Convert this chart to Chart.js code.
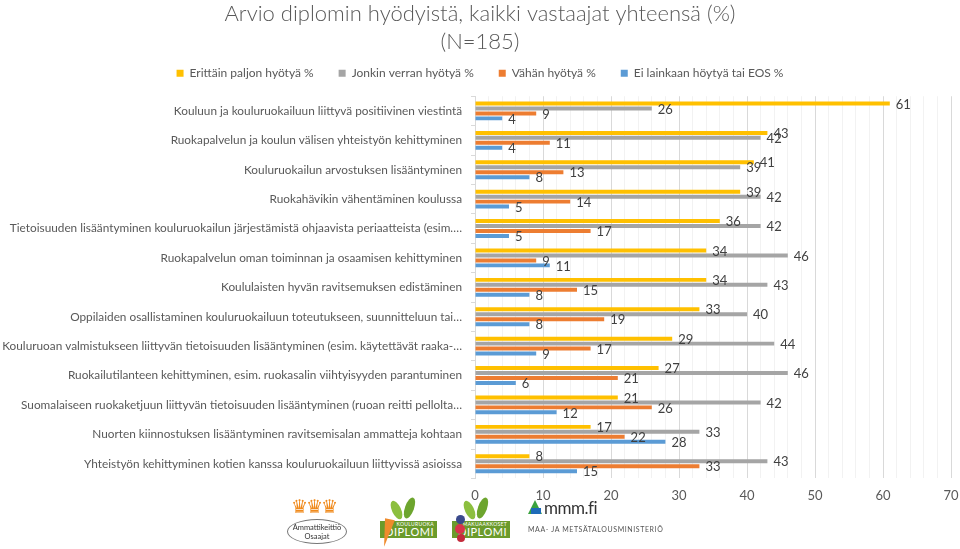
<!DOCTYPE html>
<html>
<head>
<meta charset="utf-8">
<script src="https://cdn.jsdelivr.net/npm/chart.js@4.4.0/dist/chart.umd.min.js"></script>
<style>
  html, body { margin: 0; padding: 0; background: #fff; }
  #wrap { position: relative; width: 960px; height: 549px; overflow: hidden; font-family: Lato, sans-serif; }
  #chart { position: absolute; left: 0; top: 0; }
  .logo { position: absolute; }
</style>
</head>
<body>
<div id="wrap">
  <canvas id="chart" width="960" height="549"></canvas>

  <!-- logos along the bottom, rough copies -->
  <div class="logo" style="left:291px;top:495px;color:#f08a1c;font-size:19px;letter-spacing:-2px;font-family:'DejaVu Sans';">♛♛♛</div>
  <div class="logo" style="left:287px;top:519px;width:60px;height:25px;border:1px solid #777;border-radius:50%;text-align:center;font-size:7.5px;line-height:9px;color:#333;padding-top:3px;box-sizing:border-box;">Ammattikeittiö<br>Osaajat</div>

  <div class="logo" style="left:392px;top:500px;width:9px;height:20px;background:#8cbf3f;border-radius:50%;transform:rotate(-25deg);"></div>
  <div class="logo" style="left:405px;top:497px;width:9px;height:22px;background:#6da52e;border-radius:50%;transform:rotate(20deg);"></div>
  <div class="logo" style="left:380px;top:521px;width:57px;height:17px;background:#6b9b2b;color:#fff;text-align:right;box-sizing:border-box;padding-right:3px;">
    <div style="font-size:5px;line-height:6px;letter-spacing:0.3px;">KOULURUOKA</div>
    <div style="font-size:11px;line-height:10px;letter-spacing:0.5px;">DIPLOMI</div>
  </div>
  <div class="logo" style="left:382px;top:519px;width:0;height:0;border-left:5px solid transparent;border-right:5px solid transparent;border-top:28px solid #ef8b2c;transform:rotate(12deg);"></div>

  <div class="logo" style="left:465px;top:500px;width:9px;height:20px;background:#8cbf3f;border-radius:50%;transform:rotate(-25deg);"></div>
  <div class="logo" style="left:478px;top:497px;width:9px;height:22px;background:#6da52e;border-radius:50%;transform:rotate(20deg);"></div>
  <div class="logo" style="left:452px;top:521px;width:58px;height:17px;background:#6b9b2b;color:#fff;text-align:right;box-sizing:border-box;padding-right:3px;">
    <div style="font-size:5px;line-height:6px;letter-spacing:0.3px;">MAKUAAKKOSET</div>
    <div style="font-size:11px;line-height:10px;letter-spacing:0.5px;">DIPLOMI</div>
  </div>
  <div class="logo" style="left:456px;top:515px;width:9px;height:9px;background:#3a4a8c;border-radius:50%;"></div>
  <div class="logo" style="left:455px;top:524px;width:10px;height:10px;background:#d8344a;border-radius:50%;"></div>
  <div class="logo" style="left:457px;top:534px;width:8px;height:8px;background:#c42b3c;border-radius:50%;"></div>

  <div class="logo" style="left:528px;top:500px;width:0;height:0;border-left:7px solid transparent;border-right:7px solid transparent;border-bottom:14px solid #3aa23e;"></div>
  <div class="logo" style="left:531px;top:508px;width:10px;height:6px;background:#1e6bb8;"></div>
  <div class="logo" style="left:544px;top:497px;font-size:17px;color:#333;letter-spacing:-0.5px;">mmm.fi</div>
  <div class="logo" style="left:528px;top:525px;font-size:7px;color:#555;letter-spacing:0.6px;">MAA- JA METSÄTALOUSMINISTERIÖ</div>
</div>

<script>
const categories = [
  "Kouluun ja kouluruokailuun liittyvä positiivinen viestintä",
  "Ruokapalvelun ja koulun välisen yhteistyön kehittyminen",
  "Kouluruokailun arvostuksen lisääntyminen",
  "Ruokahävikin vähentäminen koulussa",
  "Tietoisuuden lisääntyminen kouluruokailun järjestämistä ohjaavista periaatteista (esim.…",
  "Ruokapalvelun oman toiminnan ja osaamisen kehittyminen",
  "Koululaisten hyvän ravitsemuksen edistäminen",
  "Oppilaiden osallistaminen kouluruokailuun toteutukseen, suunnitteluun tai…",
  "Kouluruoan valmistukseen liittyvän tietoisuuden lisääntyminen (esim. käytettävät raaka-…",
  "Ruokailutilanteen kehittyminen, esim. ruokasalin viihtyisyyden parantuminen",
  "Suomalaiseen ruokaketjuun liittyvän tietoisuuden lisääntyminen (ruoan reitti pellolta…",
  "Nuorten kiinnostuksen lisääntyminen ravitsemisalan ammatteja kohtaan",
  "Yhteistyön kehittyminen kotien kanssa kouluruokailuun liittyvissä asioissa"
];

const seriesNames = [
  "Erittäin paljon hyötyä %",
  "Jonkin verran hyötyä %",
  "Vähän hyötyä %",
  "Ei lainkaan höytyä tai EOS %"
];

const erittainPaljon = [61, 43, 41, 39, 36, 34, 34, 33, 29, 27, 21, 17, 8];
const jonkinVerran   = [26, 42, 39, 42, 42, 46, 43, 40, 44, 46, 42, 33, 43];
const vahan          = [9, 11, 13, 14, 17, 9, 15, 19, 17, 21, 26, 22, 33];
const eiLainkaan     = [4, 4, 8, 5, 5, 11, 8, 8, 9, 6, 12, 28, 15];

const xTicksMin = 0;
const xTicksMax = 70;

const colors = ["#ffc000", "#a5a5a5", "#ed7d31", "#5b9bd5"];
const FONT = "Lato, 'Open Sans', sans-serif";

// value labels at the end of each bar
const barValues = {
  id: "barValues",
  afterDatasetsDraw(chart) {
    const ctx = chart.ctx;
    ctx.save();
    ctx.font = "13px " + FONT;
    ctx.fillStyle = "#404040";
    ctx.textAlign = "left";
    ctx.textBaseline = "middle";
    chart.data.datasets.forEach((ds, i) => {
      chart.getDatasetMeta(i).data.forEach((bar, j) => {
        ctx.fillText(ds.data[j], bar.x + 6, bar.y + 1);
      });
    });
    ctx.restore();
  }
};

new Chart(document.getElementById("chart"), {
  type: "bar",
  data: {
    labels: categories,
    datasets: [erittainPaljon, jonkinVerran, vahan, eiLainkaan].map((d, i) => ({
      label: seriesNames[i],
      data: d,
      backgroundColor: colors[i],
      borderWidth: 0,
      categoryPercentage: 0.675,
      barPercentage: 0.8
    }))
  },
  options: {
    indexAxis: "y",
    responsive: false,
    animation: false,
    layout: { padding: { left: 0, right: 0, top: 0, bottom: 35 } },
    scales: {
      x: {
        min: xTicksMin,
        max: xTicksMax,
        border: { display: false },
        grid: {
          drawTicks: false,
          color: (c) => (c.tick && c.tick.value % 10 === 0 ? "#d9d9d9" : "#f2f2f2")
        },
        ticks: {
          stepSize: 2,
          autoSkip: false,
          maxRotation: 0,
          padding: 10,
          color: "#595959",
          font: { family: FONT, size: 13 },
          callback: (v) => (v % 10 === 0 ? v : "")
        },
        afterFit(scale) { scale.paddingRight = 9; }
      },
      xTop: {
        type: "linear",
        position: "top",
        display: true,
        grid: { display: false },
        border: { display: false },
        ticks: { display: false },
        afterFit(scale) { scale.height = 7; }
      },
      y: {
        border: { color: "#d9d9d9" },
        grid: { drawOnChartArea: false, tickLength: 4, color: "#d9d9d9" },
        ticks: {
          padding: 9,
          color: "#595959",
          font: { family: FONT, size: 11.8 }
        },
        afterFit(scale) { scale.width = 475; }
      }
    },
    plugins: {
      title: {
        display: true,
        text: ["Arvio diplomin hyödyistä, kaikki vastaajat yhteensä (%)", "(N=185)"],
        color: "#595959",
        font: { family: FONT, size: 22, weight: "300", lineHeight: 1.26 },
        padding: { top: 0, bottom: -13.2 }
      },
      legend: {
        display: true,
        position: "top",
        labels: {
          boxWidth: 7,
          boxHeight: 7,
          padding: 25,
          color: "#595959",
          font: { family: FONT, size: 12 }
        }
      },
      tooltip: { enabled: false }
    }
  },
  plugins: [barValues]
});
</script>
</body>
</html>
